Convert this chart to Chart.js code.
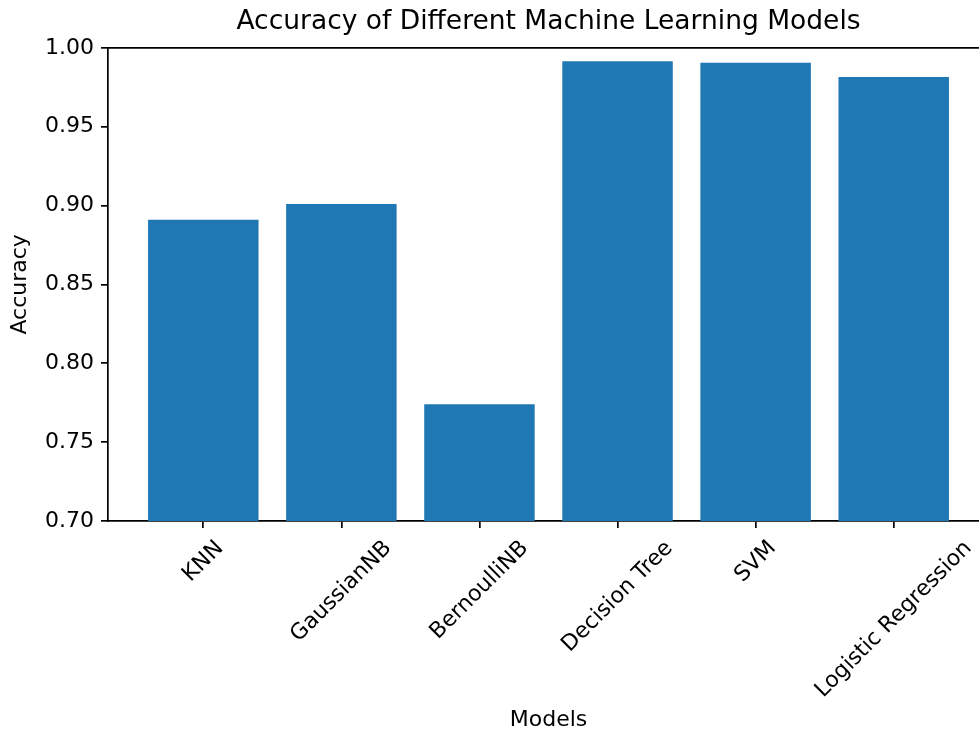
<!DOCTYPE html>
<html>
<head>
<meta charset="utf-8">
<script src="https://cdn.jsdelivr.net/npm/chart.js@4"></script>
<style>
  html, body { margin: 0; padding: 0; background: #fff; overflow: hidden; }
  #wrap { width: 979px; height: 733px; overflow: hidden; }
</style>
</head>
<body>
<div id="wrap"><canvas id="accChart" width="989" height="733"></canvas></div>
<script>
const models = ['KNN', 'GaussianNB', 'BernoulliNB', 'Decision Tree', 'SVM', 'Logistic Regression'];
const accuracy = [0.891, 0.901, 0.774, 0.9915, 0.9905, 0.9815];
const yTicks = [0.70, 0.75, 0.80, 0.85, 0.90, 0.95, 1.00];
const xTicks = [0, 1, 2, 3, 4, 5];

const FONT = 'DejaVu Sans';
const barColor = '#1f77b4';

// matplotlib-style centred 45deg tick labels
const rotatedLabels = {
    id: 'rotatedLabels',
    afterDraw(chart) {
        const x = chart.scales.x;
        const ctx = chart.ctx;
        ctx.save();
        ctx.font = '22px "' + FONT + '"';
        ctx.fillStyle = '#000';
        ctx.textAlign = 'center';
        ctx.textBaseline = 'middle';
        const h = 25;
        models.forEach((name, i) => {
            const w = ctx.measureText(name).width;
            const half = (w + h) * Math.SQRT1_2 / 2;
            const cx = x.getPixelForValue(i);
            const cy = x.top + 15 + half;
            ctx.save();
            ctx.translate(cx, cy);
            ctx.rotate(-Math.PI / 4);
            ctx.fillText(name, 0, 0);
            ctx.restore();
        });
        ctx.restore();
    }
};

const ctx = document.getElementById('accChart').getContext('2d');
new Chart(ctx, {
    type: 'bar',
    data: {
        datasets: [{
            label: 'Accuracy',
            data: accuracy.map((v, i) => ({ x: i, y: v })),
            backgroundColor: barColor,
            borderWidth: 0,
            barPercentage: 0.8,
            categoryPercentage: 1.0
        }]
    },
    options: {
        responsive: false,
        animation: false,
        devicePixelRatio: 1,
        layout: { padding: 0 },
        plugins: {
            legend: { display: false },
            tooltip: { enabled: false },
            title: {
                display: true,
                text: 'Accuracy of Different Machine Learning Models',
                color: '#000',
                fullSize: false,
                font: { family: FONT, size: 26.5, weight: 'normal' },
                padding: { top: 6, bottom: 10 }
            }
        },
        scales: {
            x: {
                type: 'linear',
                bounds: 'data',
                min: -0.69,
                max: 5.69,
                offset: false,
                afterFit: s => { s.height = 212; },
                afterBuildTicks: s => { s.ticks = xTicks.map(v => ({ value: v })); },
                grid: { display: true, offset: false, drawOnChartArea: false, drawTicks: true, tickLength: 7, color: '#000', lineWidth: 1.7 },
                border: { display: true, color: '#000', width: 1.7 },
                ticks: {
                    autoSkip: false,
                    minRotation: 45,
                    maxRotation: 45,
                    color: 'rgba(0,0,0,0)',
                    font: { family: FONT, size: 22 },
                    callback: v => models[v] ?? ''
                },
                title: {
                    display: true,
                    text: 'Models',
                    color: '#000',
                    font: { family: FONT, size: 22 },
                    padding: 0
                }
            },
            x2: {
                type: 'linear',
                position: 'top',
                min: 0,
                max: 1,
                afterFit: s => { s.height = 0; },
                grid: { display: false },
                ticks: { display: false },
                border: { display: true, color: '#000', width: 1.7 }
            },
            y: {
                min: 0.70,
                max: 1.00,
                afterFit: s => { s.width = 108; },
                afterBuildTicks: s => { s.ticks = yTicks.map(v => ({ value: v })); },
                grid: { display: true, drawOnChartArea: false, drawTicks: true, tickLength: 7, color: '#000', lineWidth: 1.7 },
                border: { display: true, color: '#000', width: 1.7 },
                ticks: {
                    padding: 7,
                    color: '#000',
                    font: { family: FONT, size: 22 },
                    callback: v => Number(v).toFixed(2)
                },
                title: {
                    display: true,
                    text: 'Accuracy',
                    color: '#000',
                    font: { family: FONT, size: 22 },
                    padding: { top: 7, bottom: 0 }
                }
            }
        }
    },
    plugins: [rotatedLabels]
});
</script>
</body>
</html>
